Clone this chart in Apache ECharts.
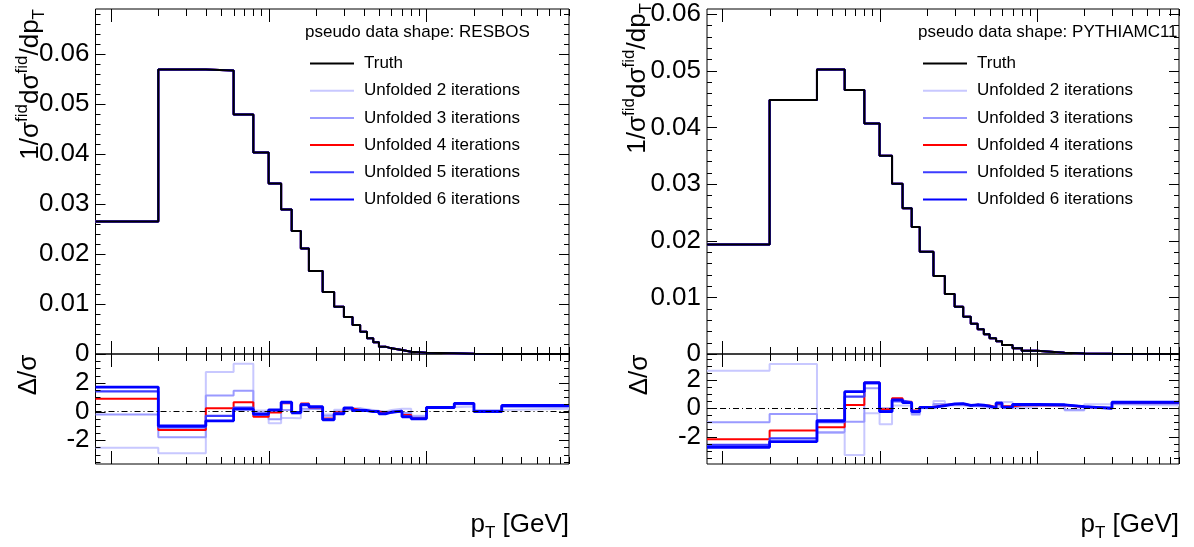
<!DOCTYPE html>
<html><head><meta charset="utf-8">
<script src="https://cdn.jsdelivr.net/npm/echarts@6/dist/echarts.min.js"></script>
<style>html,body{margin:0;padding:0;background:#fff}#c{width:1194px;height:547px}</style>
</head><body><div id="c"></div>
<script>
// ---------- data ----------
const binEdges = [0.8, 2, 4, 6, 8, 10, 12, 14, 16, 18, 22, 26, 30, 34, 38, 42, 46, 50, 55, 60, 70, 80, 100, 150, 200, 300, 800];

const seriesNames = ['Truth', 'Unfolded 2 iterations', 'Unfolded 3 iterations', 'Unfolded 4 iterations', 'Unfolded 5 iterations', 'Unfolded 6 iterations'];

// top pads: normalised distributions (unfolded curves coincide with truth in the picture)
const truthResbos = [0.0265, 0.0569, 0.0567, 0.0479, 0.0403, 0.0341, 0.0289, 0.0246, 0.0211, 0.0166, 0.0124, 0.00947, 0.0074, 0.0058, 0.00447, 0.00313, 0.00233, 0.00147, 0.00113, 0.0008, 0.00047, 0.00027, 0.00013, 0.00004, 0.00001, 0.000002];
const truthPythia = [0.01935, 0.04482, 0.05024, 0.04659, 0.04071, 0.03499, 0.03005, 0.02571, 0.02241, 0.01806, 0.01376, 0.01059, 0.00835, 0.00659, 0.00535, 0.00436, 0.00348, 0.00276, 0.00224, 0.00159, 0.00100, 0.00059, 0.00024, 0.0001, 0.00004, 0.00001];

// bottom pads: Delta/sigma
const ratioResbos2 = [-2.52, -2.91, 2.75, 3.33, 0.07, -0.82, -0.45, -0.47, 0.05, 0.2, -0.2, 0.12, 0.1, 0.25, 0.15, 0.1, 0.05, 0.0, 0.1, 0.2, 0.2, -0.3, 0.3, 0.35, 0.1, 0.2];
const ratioResbos3 = [-0.21, -1.79, 1.12, 1.45, -0.05, -0.54, 0.1, -0.15, 0.2, 0.15, -0.3, 0.0, 0.15, 0.2, 0.1, 0.05, 0.0, -0.05, 0.0, 0.05, -0.1, -0.35, 0.3, 0.5, 0.05, 0.32];
const ratioResbos4 = [0.89, -1.28, 0.23, 0.65, -0.37, -0.07, 0.58, -0.03, 0.56, 0.28, -0.49, -0.05, 0.22, 0.1, 0.05, 0.02, 0.0, -0.1, -0.05, 0.02, -0.25, -0.45, 0.28, 0.55, 0.0, 0.38];
const ratioResbos5 = [1.40, -1.10, -0.30, 0.28, -0.22, 0.08, 0.62, -0.05, 0.50, 0.30, -0.55, -0.12, 0.24, 0.06, 0.06, 0.0, 0.0, -0.14, -0.04, 0.03, -0.33, -0.47, 0.27, 0.55, 0.0, 0.40];
const ratioResbos6 = [1.70, -1.00, -0.65, 0.16, -0.18, 0.12, 0.65, -0.07, 0.47, 0.33, -0.58, -0.16, 0.26, 0.07, 0.07, 0.0, 0.0, -0.16, -0.05, 0.02, -0.37, -0.51, 0.28, 0.56, 0.0, 0.42];

const ratioPythia2 = [2.67, 3.14, -1.75, -3.31, -0.35, -1.13, 0.19, 0.2, -0.47, 0.0, 0.52, 0.2, 0.2, 0.15, 0.15, 0.1, 0.0, 0.0, 0.1, 0.45, 0.0, 0.05, 0.2, -0.15, 0.28, 0.2];
const ratioPythia3 = [-0.99, -0.40, -1.70, -0.95, 1.42, 0.0, 0.47, 0.35, -0.40, 0.05, 0.3, 0.25, 0.25, 0.2, 0.2, 0.15, 0.1, 0.05, 0.2, 0.05, 0.15, 0.2, 0.15, -0.1, 0.1, 0.3];
const ratioPythia4 = [-2.20, -1.58, -1.35, 0.24, 1.82, -0.07, 0.71, 0.47, -0.15, 0.1, 0.22, 0.3, 0.3, 0.22, 0.25, 0.2, 0.2, 0.1, 0.3, 0.15, 0.22, 0.22, 0.22, 0.1, 0.0, 0.4];
const ratioPythia5 = [-2.60, -2.13, -0.99, 0.83, 1.77, -0.2, 0.55, 0.42, -0.2, 0.08, 0.2, 0.3, 0.32, 0.2, 0.25, 0.2, 0.15, 0.05, 0.35, 0.08, 0.25, 0.25, 0.25, 0.12, 0.0, 0.42];
const ratioPythia6 = [-2.77, -2.36, -0.87, 1.18, 1.82, -0.24, 0.59, 0.40, -0.24, 0.07, 0.19, 0.31, 0.33, 0.2, 0.25, 0.22, 0.15, 0.02, 0.38, 0.08, 0.27, 0.27, 0.25, 0.12, 0.0, 0.43];

// tick labels
const topLabelsResbos = [0, 0.01, 0.02, 0.03, 0.04, 0.05, 0.06];
const topLabelsPythia = [0, 0.01, 0.02, 0.03, 0.04, 0.05, 0.06];
const ratioLabels = [-2, 0, 2];

// ---------- styling ----------
const FONT = '"Liberation Sans", Arial, Helvetica, sans-serif';
const lineColors = ['#000000', '#c8c8ff', '#9a9aff', '#ff0000', '#3c3cff', '#0000ff'];
const ratioWidths = [2, 2, 2, 2, 2.2, 2.8];

function stepData(vals) {
  return binEdges.map((e, i) => [e, vals[Math.min(i, vals.length - 1)]]);
}

// tick positions on the log axis (1..9, 10..90, 100..800)
const xTickVals = [];
[1, 10, 100].forEach(d => { for (let k = 1; k <= 9; k++) { const v = k * d; if (v <= 800) xTickVals.push(v); } });

function rangeTicks(lo, hi, step) {
  const out = []; const n = Math.round((hi - lo) / step);
  for (let i = 0; i <= n; i++) out.push(+(lo + i * step).toFixed(6));
  return out;
}

const panels = [
  { left: 95.5, width: 473.5, topMax: 0.069, rMin: -3.65, rMax: 4.0,
    title: 'pseudo data shape: RESBOS', titleLeft: 305, legendLeft: 309,
    truth: truthResbos, topLabels: topLabelsResbos,
    ratios: [ratioResbos2, ratioResbos3, ratioResbos4, ratioResbos5, ratioResbos6],
    yTitleX: 31, yTitleY: 9, rTitleX: 29 },
  { left: 707, width: 472, topMax: 0.0609, rMin: -3.95, rMax: 3.85,
    title: 'pseudo data shape: PYTHIAMC11', titleLeft: 918, legendLeft: 922,
    truth: truthPythia, topLabels: topLabelsPythia,
    ratios: [ratioPythia2, ratioPythia3, ratioPythia4, ratioPythia5, ratioPythia6],
    yTitleX: 638, yTitleY: 3, rTitleX: 640 }
];

const TOP = 9, SPLIT = 354, BOTTOM = 464;

const grid = [], xAxis = [], yAxis = [], series = [], legend = [], title = [], graphic = [];

function xTickSeries(ax, yRef) {
  return {
    type: 'custom', xAxisIndex: ax, yAxisIndex: ax, silent: true, clip: false, z: 20,
    data: xTickVals.map(v => [v, yRef]),
    renderItem: (params, api) => {
      const v = api.value(0);
      const px = Math.round(api.coord([v, api.value(1)])[0]) + 0.5;
      const cs = params.coordSys;
      const lv = Math.log10(v);
      const L = Math.abs(lv - Math.round(lv)) < 1e-6 ? 13 : 7;
      const yb = cs.y + cs.height, yt = cs.y;
      return { type: 'group', children: [
        { type: 'line', shape: { x1: px, y1: yb, x2: px, y2: yb - L }, style: { stroke: '#000', lineWidth: 1 } },
        { type: 'line', shape: { x1: px, y1: yt, x2: px, y2: yt + L }, style: { stroke: '#000', lineWidth: 1 } }
      ] };
    }
  };
}

function yTickSeries(ax, majors, minors) {
  const data = majors.map(v => [1, v, 1]).concat(minors.map(v => [1, v, 0]));
  return {
    type: 'custom', xAxisIndex: ax, yAxisIndex: ax, silent: true, clip: false, z: 20,
    data: data,
    renderItem: (params, api) => {
      const py = Math.round(api.coord([api.value(0), api.value(1)])[1]) + 0.5;
      const cs = params.coordSys;
      if (py < cs.y - 1 || py > cs.y + cs.height + 1) return null;
      const L = api.value(2) ? 10 : 5;
      const xl = cs.x, xr = cs.x + cs.width;
      return { type: 'group', children: [
        { type: 'line', shape: { x1: xl, y1: py, x2: xl + L, y2: py }, style: { stroke: '#000', lineWidth: 1 } },
        { type: 'line', shape: { x1: xr, y1: py, x2: xr - L, y2: py }, style: { stroke: '#000', lineWidth: 1 } }
      ] };
    }
  };
}

const rich = {
  n: { fontSize: 26, fontFamily: FONT, color: '#000', lineHeight: 34 },
  s: { fontSize: 17, fontFamily: FONT, color: '#000', lineHeight: 17, verticalAlign: 'top' },
  b: { fontSize: 17, fontFamily: FONT, color: '#000', lineHeight: 17, verticalAlign: 'bottom' }
};

panels.forEach((p, pi) => {
  const gTop = 2 * pi, gRat = 2 * pi + 1;
  const gridBase = { left: p.left, width: p.width, show: true, borderColor: '#000', borderWidth: 1,
    backgroundColor: 'transparent', containLabel: false, outerBoundsMode: 'none' };
  grid.push(Object.assign({}, gridBase, { top: TOP, height: SPLIT - TOP }));
  grid.push(Object.assign({}, gridBase, { top: SPLIT, height: BOTTOM - SPLIT }));

  [gTop, gRat].forEach(g => {
    xAxis.push({ gridIndex: g, type: 'log', logBase: 10, min: 0.8, max: 800,
      axisLine: { show: false }, axisTick: { show: false }, axisLabel: { show: false },
      splitLine: { show: false }, minorTick: { show: false }, minorSplitLine: { show: false } });
  });
  const labelBase = { fontSize: 26, fontFamily: FONT, color: '#000', margin: 6 };
  yAxis.push({ gridIndex: gTop, type: 'value', min: 0, max: p.topMax,
    axisLine: { show: false }, axisTick: { show: false }, splitLine: { show: false },
    axisLabel: Object.assign({}, labelBase, { customValues: p.topLabels, formatter: v => String(+v.toFixed(3)) }) });
  yAxis.push({ gridIndex: gRat, type: 'value', min: p.rMin, max: p.rMax,
    axisLine: { show: false }, axisTick: { show: false }, splitLine: { show: false },
    axisLabel: Object.assign({}, labelBase, { customValues: ratioLabels, formatter: v => String(Math.round(v)) }) });

  // top pad: unfolded first, truth on top
  for (let k = 1; k < seriesNames.length; k++) {
    series.push({ type: 'line', name: seriesNames[k], xAxisIndex: gTop, yAxisIndex: gTop,
      step: 'end', symbol: 'none', showSymbol: false, silent: true,
      lineStyle: { color: lineColors[k], width: 2 }, itemStyle: { color: lineColors[k] },
      data: stepData(p.truth) });
  }
  series.push({ type: 'line', name: seriesNames[0], xAxisIndex: gTop, yAxisIndex: gTop,
    step: 'end', symbol: 'none', showSymbol: false, silent: true,
    lineStyle: { color: lineColors[0], width: 2 }, itemStyle: { color: lineColors[0] },
    data: stepData(p.truth) });

  // ratio pad
  p.ratios.forEach((arr, j) => {
    const k = j + 1;
    const s = { type: 'line', name: seriesNames[k], xAxisIndex: gRat, yAxisIndex: gRat,
      step: 'end', symbol: 'none', showSymbol: false, silent: true,
      lineStyle: { color: lineColors[k], width: ratioWidths[k] }, itemStyle: { color: lineColors[k] },
      data: stepData(arr) };
    if (j === 0) {
      s.markLine = { silent: true, symbol: 'none', label: { show: false },
        lineStyle: { color: '#000', width: 1, type: [6, 3, 1, 3] },
        data: [{ yAxis: 0 }] };
    }
    series.push(s);
  });

  // ticks
  series.push(xTickSeries(gTop, 0.01));
  series.push(xTickSeries(gRat, 0));
  const topMaj = p.topLabels;
  const topMin = rangeTicks(0, p.topMax, 0.002).filter(v => Math.abs(v * 100 - Math.round(v * 100)) > 1e-6);
  series.push(yTickSeries(gTop, topMaj, topMin));
  const rMaj = [-2, 0, 2, 4].filter(v => v >= p.rMin && v <= p.rMax);
  const rMin = rangeTicks(-3.5, 4, 0.5).filter(v => v >= p.rMin && v <= p.rMax && Math.abs(v / 2 - Math.round(v / 2)) > 1e-6);
  series.push(yTickSeries(gRat, rMaj, rMin));

  legend.push({ show: true, orient: 'vertical', left: p.legendLeft, top: 55, padding: 0,
    itemWidth: 44, itemHeight: 14, itemGap: 10.2, selectedMode: false,
    itemStyle: { color: 'rgba(0,0,0,0)', borderColor: 'rgba(0,0,0,0)', borderWidth: 0, opacity: 0 },
    textStyle: { fontSize: 17, fontFamily: FONT, color: '#000', padding: [0, 0, 0, 5] },
    data: seriesNames });

  title.push({ text: p.title, left: p.titleLeft, top: 24, padding: 0,
    textStyle: { fontSize: 17, fontFamily: FONT, color: '#000', fontWeight: 'normal' } });

  graphic.push({ type: 'text', x: p.yTitleX, y: p.yTitleY, rotation: Math.PI / 2, silent: true,
    style: { text: '{n|1/σ}{s|fid}{n|dσ}{s|fid}{n|/dp}{b|T}', rich: rich, align: 'right', verticalAlign: 'middle' } });
  graphic.push({ type: 'text', x: p.rTitleX, y: 375, rotation: Math.PI / 2, silent: true,
    style: { text: '{n|Δ/σ}', rich: rich, align: 'center', verticalAlign: 'middle' } });
  graphic.push({ type: 'text', x: p.left + p.width, y: 525, silent: true,
    style: { text: '{n|p}{b|T}{n| [GeV]}', rich: rich, align: 'right', verticalAlign: 'middle' } });
});

const chart = echarts.init(document.getElementById('c'), null, { renderer: 'canvas' });
chart.setOption({
  animation: false,
  backgroundColor: '#fff',
  grid, xAxis, yAxis, series, legend, title, graphic
});
</script></body></html>
